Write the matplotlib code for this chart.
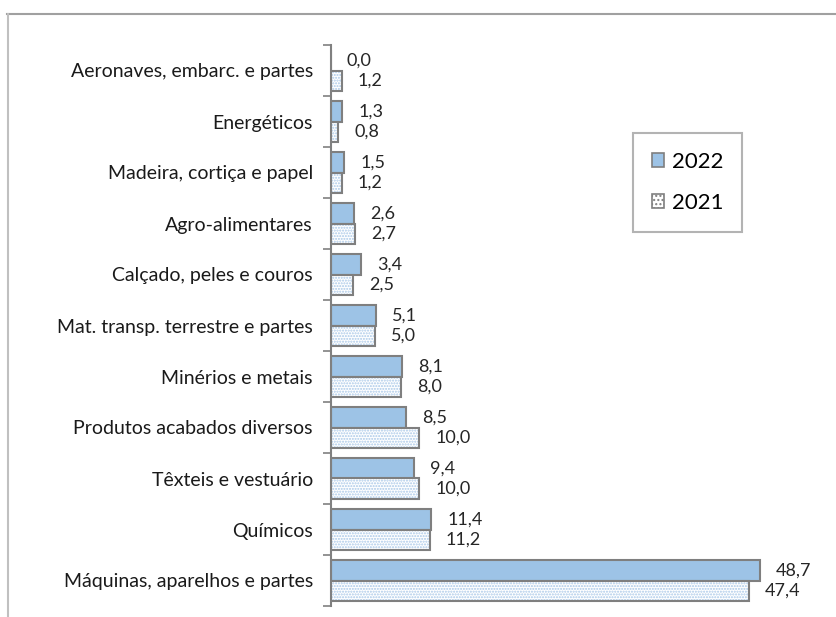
import matplotlib
matplotlib.use("Agg")
import matplotlib.pyplot as plt
import numpy as np
from matplotlib.patches import Rectangle
from matplotlib.lines import Line2D

plt.rcParams['font.family'] = ['Lato', 'DejaVu Sans']
plt.rcParams['hatch.linewidth'] = 1.0

categories = ["Aeronaves, embarc. e partes", "Energéticos", "Madeira, cortiça e papel",
              "Agro-alimentares", "Calçado, peles e couros", "Mat. transp. terrestre e partes",
              "Minérios e metais", "Produtos acabados diversos", "Têxteis e vestuário",
              "Químicos", "Máquinas, aparelhos e partes"]
v2022 = [0.0, 1.3, 1.5, 2.6, 3.4, 5.1, 8.1, 8.5, 9.4, 11.4, 48.7]
v2021 = [1.2, 0.8, 1.2, 2.7, 2.5, 5.0, 8.0, 10.0, 10.0, 11.2, 47.4]
series_labels = ["2022", "2021"]

W, H = 837, 617
fig = plt.figure(figsize=(W/100, H/100), dpi=100)
fig.patch.set_facecolor('white')

# outer border
fig.add_artist(Line2D([7/W, 1], [1-14/H, 1-14/H], color='#a0a0a0', lw=1.5, transform=fig.transFigure))
fig.add_artist(Line2D([8/W, 8/W], [1-14/H, 0], color='#c0c0c0', lw=1.5, transform=fig.transFigure))

ax_left, ax_right = 331/W, 815/W
ax_top, ax_bot = 1-45/H, 1-606/H
ax = fig.add_axes([ax_left, ax_bot, ax_right-ax_left, ax_top-ax_bot])

n = len(categories)
y = np.arange(n)
h = 0.4
blue = '#9dc3e6'
dot = '#a9c8e8'
edge = '#7f7f7f'
ax.barh(y - h/2, v2022, height=h, color=blue, edgecolor=edge, linewidth=1.5, label=series_labels[0])
for yy, v in zip(y, v2021):
    ax.barh(yy + h/2, v, height=h, color='white', edgecolor=dot, linewidth=0, hatch='......')
    ax.barh(yy + h/2, v, height=h, color='none', edgecolor=edge, linewidth=1.5)

ax.set_ylim(n - 0.5, -0.5)
xmax = (815-331)/8.81
ax.set_xlim(0, xmax)

off = 16/8.81
for yy, a, b in zip(y, v2022, v2021):
    ax.text(a + off, yy - h/2, f"{a:.1f}".replace('.', ','), va='center', ha='left', fontsize=13, color='#262626')
    ax.text(b + off, yy + h/2, f"{b:.1f}".replace('.', ','), va='center', ha='left', fontsize=13, color='#262626')

for s in ['top', 'right', 'bottom']:
    ax.spines[s].set_visible(False)
ax.spines['left'].set_color('#808080')
ax.spines['left'].set_linewidth(1.5)
ax.set_xticks([])
ax.set_yticks(y)
ax.set_yticklabels(categories, fontsize=14, color='#1a1a1a')
ax.tick_params(axis='y', which='major', length=0, pad=13)
ax.set_yticks(np.arange(-0.5, n, 1), minor=True)
ax.tick_params(axis='y', which='minor', length=6, color='#808080', width=1.2)

# legend
handles = [Rectangle((0, 0), 1, 1, facecolor=blue, edgecolor=edge, lw=1.2),
           Rectangle((0, 0), 1, 1, facecolor='white', edgecolor=edge, lw=1.2, hatch='....')]
leg = fig.legend(handles, series_labels, loc='upper left',
                 bbox_to_anchor=(633/W, 1-133/H), bbox_transform=fig.transFigure,
                 frameon=True, fancybox=False, edgecolor='#a0a0a0', fontsize=16,
                 handlelength=0.55, handleheight=0.55, handletextpad=0.35,
                 labelspacing=0.95, borderpad=0.85, borderaxespad=0)
leg.get_frame().set_linewidth(1.5)

fig.savefig('out.png', dpi=100, facecolor='white')
